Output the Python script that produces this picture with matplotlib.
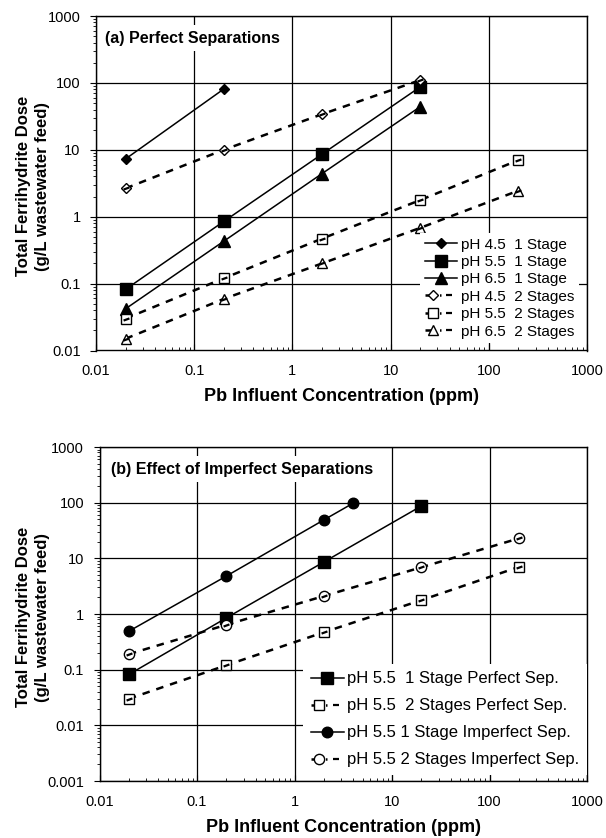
import matplotlib
matplotlib.use('Agg')
import matplotlib.pyplot as plt
import numpy as np
from matplotlib.lines import Line2D
from matplotlib.legend_handler import HandlerTuple
from matplotlib.path import Path
from matplotlib.ticker import FixedLocator, NullFormatter, LogLocator

plt.rcParams['font.family'] = ['Liberation Sans', 'DejaVu Sans']

# ---------------- data ----------------
x_ticks = [0.01, 0.1, 1, 10, 100, 1000]
x_tick_labels = ['0.01', '0.1', '1', '10', '100', '1000']
y_ticks_a = [0.01, 0.1, 1, 10, 100, 1000]
y_tick_labels_a = ['0.01', '0.1', '1', '10', '100', '1000']
y_ticks_b = [0.001, 0.01, 0.1, 1, 10, 100, 1000]
y_tick_labels_b = ['0.001', '0.01', '0.1', '1', '10', '100', '1000']

x_two = [0.02, 0.2]
x_four = [0.02, 0.2, 2, 20]
x_five = [0.02, 0.2, 2, 20, 200]
x_imp1 = [0.02, 0.2, 2, 4]

ph45_1stage = [7.3, 81]
ph55_1stage = [0.082, 0.85, 8.6, 87]
ph65_1stage = [0.042, 0.43, 4.4, 44]
ph45_2stage = [2.65, 10, 34, 110]
ph55_2stage = [0.030, 0.12, 0.47, 1.77, 7.0]
ph65_2stage = [0.015, 0.059, 0.20, 0.68, 2.45]

ph55_1stage_imperfect = [0.49, 4.8, 49, 98]
ph55_2stage_imperfect = [0.19, 0.64, 2.1, 6.9, 22.8]

labels_a = ['pH 4.5  1 Stage', 'pH 5.5  1 Stage', 'pH 6.5  1 Stage',
            'pH 4.5  2 Stages', 'pH 5.5  2 Stages', 'pH 6.5  2 Stages']
labels_b = ['pH 5.5  1 Stage Perfect Sep.', 'pH 5.5  2 Stages Perfect Sep.',
            'pH 5.5 1 Stage Imperfect Sep.', 'pH 5.5 2 Stages Imperfect Sep.']

title_a = '(a) Perfect Separations'
title_b = '(b) Effect of Imperfect Separations'
xlabel = 'Pb Influent Concentration (ppm)'
ylabel = 'Total Ferrihydrite Dose\n(g/L wastewater feed)'

# ---------------- style ----------------
W, H = 606, 838
fig = plt.figure(figsize=(W / 100, H / 100), dpi=100)

DASH = (0, (3, 2.8))
LW_SOLID = 1.1
LW_DASH = 1.8
ang = np.deg2rad(20)
tilt_dash = Path([(-np.cos(ang), -np.sin(ang)), (np.cos(ang), np.sin(ang))],
                 [Path.MOVETO, Path.LINETO])


def px_axes(left, top, right, bottom):
    return fig.add_axes([left / W, 1 - bottom / H, (right - left) / W, (bottom - top) / H])


def style_axes(ax, yticks, ylabels, ylim):
    ax.set_xscale('log')
    ax.set_yscale('log')
    ax.set_xlim(0.01, 1000)
    ax.set_ylim(*ylim)
    ax.xaxis.set_major_locator(FixedLocator(x_ticks))
    ax.set_xticklabels(x_tick_labels)
    ax.yaxis.set_major_locator(FixedLocator(yticks))
    ax.set_yticklabels(ylabels)
    ax.xaxis.set_minor_locator(LogLocator(base=10, subs=np.arange(2, 10), numticks=30))
    ax.yaxis.set_minor_locator(LogLocator(base=10, subs=np.arange(2, 10), numticks=30))
    ax.xaxis.set_minor_formatter(NullFormatter())
    ax.yaxis.set_minor_formatter(NullFormatter())
    ax.tick_params(axis='x', which='both', direction='in', top=False, labelsize=10.5, pad=10)
    ax.tick_params(axis='y', which='both', direction='out', right=False, labelsize=10.5, pad=7)
    ax.tick_params(which='major', length=4, width=0.8)
    ax.tick_params(which='minor', length=2.5, width=0.6)
    ax.grid(True, which='major', color='black', linewidth=0.9)
    for s in ax.spines.values():
        s.set_linewidth(1.0)
        s.set_color('black')
    ax.set_xlabel(xlabel, fontsize=13, fontweight='bold', labelpad=7)


def series(ax, x, y, marker, ms, filled, dashed):
    mfc = 'black' if filled else 'white'
    ls = DASH if dashed else '-'
    lw = LW_DASH if dashed else LW_SOLID
    ax.plot(x, y, linestyle=ls, linewidth=lw, color='black', marker=marker,
            markersize=ms, markerfacecolor=mfc, markeredgecolor='black',
            markeredgewidth=1.0, zorder=3)
    if dashed:
        ax.plot(x, y, linestyle='None', marker=tilt_dash, markersize=4.2,
                markeredgewidth=1.6, color='black', zorder=4)


def handle(marker, ms, filled, dashed):
    mfc = 'black' if filled else 'white'
    ls = DASH if dashed else '-'
    lw = LW_DASH if dashed else LW_SOLID
    h = Line2D([], [], linestyle=ls, linewidth=lw, color='black', marker=marker,
               markersize=ms, markerfacecolor=mfc, markeredgecolor='black',
               markeredgewidth=1.0)
    if dashed:
        d = Line2D([], [], linestyle='None', marker='_', markersize=4.2,
                   markeredgewidth=1.6, color='black')
        return (h, d)
    return h


# ---------------- panel (a) ----------------
axa = px_axes(96, 16, 587, 350.5)
style_axes(axa, y_ticks_a, y_tick_labels_a, (0.01, 1000))

specs_a = [
    (x_two, ph45_1stage, 'D', 5.6, True, False),
    (x_four, ph55_1stage, 's', 8.4, True, False),
    (x_four, ph65_1stage, '^', 8.0, True, False),
    (x_four, ph45_2stage, 'D', 5.2, False, True),
    (x_five, ph55_2stage, 's', 7.2, False, True),
    (x_five, ph65_2stage, '^', 7.6, False, True),
]
handles_a = []
for x, y, m, ms, f, d in specs_a:
    series(axa, x, y, m, ms, f, d)
    handles_a.append(handle(m, ms, f, d))

axa.text(0.018, 0.934, title_a, transform=axa.transAxes, fontsize=11.5,
         fontweight='bold', ha='left', va='center', zorder=5,
         bbox=dict(facecolor='white', edgecolor='none', pad=4))

lega = axa.legend(handles_a, labels_a, loc='lower right', bbox_to_anchor=(0.984, 0.022),
                  borderaxespad=0, borderpad=0.3, labelspacing=0.22, handlelength=2.15,
                  handletextpad=0.25, fontsize=11, frameon=True, fancybox=False,
                  facecolor='white', edgecolor='none', framealpha=1,
                  handler_map={tuple: HandlerTuple(ndivide=None, pad=0)})

# ---------------- panel (b) ----------------
axb = px_axes(99.5, 447, 587, 781)
style_axes(axb, y_ticks_b, y_tick_labels_b, (0.001, 1000))

specs_b = [
    (x_four, ph55_1stage, 's', 8.4, True, False),
    (x_five, ph55_2stage, 's', 7.2, False, True),
    (x_imp1, ph55_1stage_imperfect, 'o', 7.6, True, False),
    (x_five, ph55_2stage_imperfect, 'o', 7.4, False, True),
]
handles_b = []
for x, y, m, ms, f, d in specs_b:
    series(axb, x, y, m, ms, f, d)
    handles_b.append(handle(m, ms, f, d))

axb.text(0.024, 0.934, title_b, transform=axb.transAxes, fontsize=11.5,
         fontweight='bold', ha='left', va='center', zorder=5,
         bbox=dict(facecolor='white', edgecolor='none', pad=4))

legb = axb.legend(handles_b, labels_b, loc='lower right', bbox_to_anchor=(1.0, 0.018),
                  borderaxespad=0, borderpad=0.45, labelspacing=0.72, handlelength=2.0,
                  handletextpad=0.2, fontsize=12, frameon=True, fancybox=False,
                  facecolor='white', edgecolor='none', framealpha=1,
                  handler_map={tuple: HandlerTuple(ndivide=None, pad=0)})

# y labels (two-line, bold)
fig.text(33 / W, 1 - 186 / H, ylabel, rotation=90, ha='center', va='center',
         fontsize=12, fontweight='bold', linespacing=1.4, multialignment='center')
fig.text(33 / W, 1 - 617 / H, ylabel, rotation=90, ha='center', va='center',
         fontsize=12, fontweight='bold', linespacing=1.4, multialignment='center')

fig.savefig('out.png', dpi=100, facecolor='white')
